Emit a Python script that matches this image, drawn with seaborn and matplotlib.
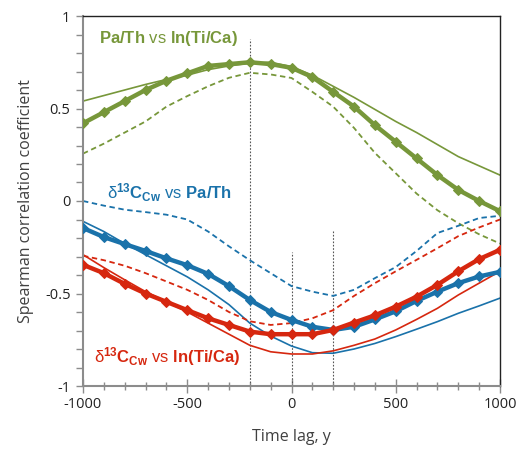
import matplotlib
matplotlib.use("Agg")
import matplotlib.pyplot as plt
import seaborn as sns
import pandas as pd
from matplotlib.ticker import MultipleLocator

# ---- data ----
lags = [-1000, -900, -800, -700, -600, -500, -400, -300, -200, -100, 0,
        100, 200, 300, 400, 500, 600, 700, 800, 900, 1000]

pa_ti_main = [0.42, 0.48, 0.54, 0.60, 0.65, 0.69, 0.73, 0.74, 0.75, 0.74, 0.72,
              0.67, 0.59, 0.51, 0.41, 0.32, 0.23, 0.14, 0.06, 0.00, -0.055]
pa_ti_solid = [0.54, 0.57, 0.60, 0.63, 0.657, 0.68, 0.71, 0.73, 0.745, 0.75, 0.726,
               0.68, 0.62, 0.56, 0.495, 0.43, 0.37, 0.305, 0.24, 0.19, 0.14]
pa_ti_dash = [0.256, 0.31, 0.37, 0.43, 0.51, 0.567, 0.62, 0.666, 0.693, 0.684, 0.665,
              0.59, 0.51, 0.395, 0.26, 0.15, 0.04, -0.05, -0.12, -0.18, -0.23]

d13_pa_main = [-0.146, -0.195, -0.233, -0.27, -0.31, -0.347, -0.394, -0.46, -0.535, -0.60, -0.643,
               -0.68, -0.697, -0.68, -0.64, -0.596, -0.54, -0.49, -0.444, -0.408, -0.383]
d13_pa_solid = [-0.11, -0.165, -0.23, -0.29, -0.35, -0.41, -0.48, -0.56, -0.66, -0.73, -0.784,
                -0.82, -0.823, -0.80, -0.77, -0.733, -0.693, -0.652, -0.607, -0.567, -0.525]
d13_pa_dash = [0.0, -0.025, -0.047, -0.06, -0.074, -0.10, -0.165, -0.245, -0.32, -0.39, -0.46,
               -0.49, -0.513, -0.48, -0.417, -0.357, -0.27, -0.173, -0.134, -0.092, -0.08]

d13_ti_main = [-0.345, -0.39, -0.448, -0.50, -0.545, -0.59, -0.634, -0.67, -0.706, -0.72, -0.72,
               -0.72, -0.697, -0.657, -0.618, -0.571, -0.517, -0.453, -0.38, -0.314, -0.264]
d13_ti_solid = [-0.29, -0.36, -0.426, -0.49, -0.544, -0.60, -0.66, -0.72, -0.78, -0.815, -0.827,
                -0.827, -0.81, -0.78, -0.746, -0.697, -0.64, -0.58, -0.508, -0.444, -0.38]
d13_ti_dash = [-0.296, -0.32, -0.35, -0.39, -0.435, -0.48, -0.535, -0.60, -0.65, -0.67, -0.66,
               -0.634, -0.59, -0.513, -0.444, -0.38, -0.318, -0.255, -0.19, -0.143, -0.10]

x_ticks = [-1000, -500, 0, 500, 1000]
x_ticklabels = ["-1000", "-500", "0", "500", "1000"]
y_ticks = [-1, -0.5, 0, 0.5, 1]
y_ticklabels = ["-1", "-0.5", "0", "0.5", "1"]
ref_lags = [-200, 0, 200]
ref_tops = [0.877, -0.276, -0.16]

GREEN = "#77973A"
BLUE = "#1A72AA"
RED = "#D6270F"

# ---- style ----
sns.set_theme(style="white")
plt.rcParams["font.family"] = ["Open Sans", "DejaVu Sans"]
plt.rcParams["mathtext.fontset"] = "custom"
plt.rcParams["mathtext.rm"] = "Liberation Sans"
plt.rcParams["mathtext.bf"] = "Liberation Sans:bold"
plt.rcParams["mathtext.it"] = "Liberation Sans:italic"
plt.rcParams["axes.unicode_minus"] = False
plt.rcParams["xtick.bottom"] = True
plt.rcParams["ytick.left"] = True
plt.rcParams["xtick.major.size"] = 10
plt.rcParams["xtick.minor.size"] = 6
plt.rcParams["ytick.major.size"] = 5
plt.rcParams["ytick.minor.size"] = 5

fig = plt.figure(figsize=(5.19, 4.58), dpi=100)
ax = fig.add_axes([83 / 519, 1 - 386 / 458, (500 - 83) / 519, (386 - 16) / 458])

# reference dotted verticals
for xl, top in zip(ref_lags, ref_tops):
    ax.vlines(xl, -1, top, colors="#555555", linestyles=(0, (1.5, 1.5)), linewidth=0.8, zorder=1)

series = [
    (pa_ti_main, pa_ti_solid, pa_ti_dash, GREEN),
    (d13_pa_main, d13_pa_solid, d13_pa_dash, BLUE),
    (d13_ti_main, d13_ti_solid, d13_ti_dash, RED),
]
for main, solid, dash, col in series:
    sns.lineplot(x=lags, y=solid, ax=ax, color=col, linewidth=1.2, zorder=2)
    sns.lineplot(x=lags, y=dash, ax=ax, color=col, linewidth=1.3, zorder=2,
                 linestyle=(0, (3, 2)))
for main, solid, dash, col in series:
    sns.lineplot(x=lags, y=main, ax=ax, color=col, linewidth=3.2, marker="D",
                 markersize=5.5, markeredgecolor=col, markerfacecolor=col, zorder=4)

ax.set_xlim(-1000, 1000)
ax.set_ylim(-1, 1)
ax.set_xticks(x_ticks)
ax.set_xticklabels(x_ticklabels)
ax.set_yticks(y_ticks)
ax.set_yticklabels(y_ticklabels)
ax.xaxis.set_minor_locator(MultipleLocator(100))
ax.yaxis.set_minor_locator(MultipleLocator(0.1))
ax.tick_params(axis="x", which="major", direction="inout", length=10, width=1,
               color="#8C8C8C", labelsize=10.5, pad=3, labelcolor="#222222", bottom=True)
ax.tick_params(axis="x", which="minor", direction="inout", length=6, width=1,
               color="#8C8C8C", bottom=True)
ax.tick_params(axis="y", which="both", direction="out", length=5, width=1,
               color="#8C8C8C", labelsize=10.5, pad=4, labelcolor="#222222", left=True)

for side in ("left", "bottom"):
    ax.spines[side].set_color("#8C8C8C")
    ax.spines[side].set_linewidth(1.5)
for side in ("top", "right"):
    ax.spines[side].set_color("#222222")
    ax.spines[side].set_linewidth(1.0)
    ax.spines[side].set_visible(True)

ax.set_xlabel("Time lag, y", fontsize=11.5, color="#404040", labelpad=12)
ax.set_ylabel("Spearman correlation coefficient", fontsize=11.5, color="#404040", labelpad=8)

ax.text(-925, 0.88, r"$\mathbf{Pa/Th}$ vs $\mathbf{ln(Ti/Ca)}$", color=GREEN,
        fontsize=12, family="Liberation Sans", va="center", ha="left")
ax.text(-885, 0.045, r"$\mathrm{δ}^{\mathbf{13}}\mathbf{C}_{\mathbf{Cw}}$ vs $\mathbf{Pa/Th}$",
        color=BLUE, fontsize=12, family="Liberation Sans", va="center", ha="left")
ax.text(-945, -0.84, r"$\mathrm{δ}^{\mathbf{13}}\mathbf{C}_{\mathbf{Cw}}$ vs $\mathbf{ln(Ti/Ca)}$",
        color=RED, fontsize=12, family="Liberation Sans", va="center", ha="left")

fig.savefig("out.png", dpi=100)
